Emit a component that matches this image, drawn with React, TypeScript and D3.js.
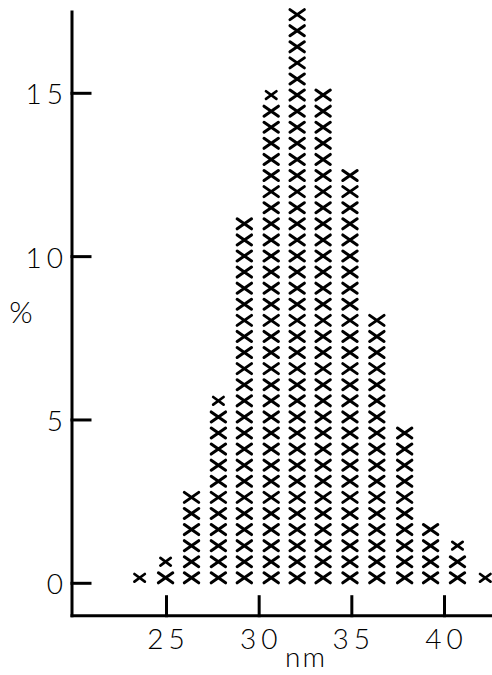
import React from "react";
import * as d3 from "d3";

// Size classes (nm) – centre of each column of crosses
const binCenters = [23.55, 24.95, 26.35, 27.8, 29.2, 30.65, 32.05, 33.45, 34.9, 36.35, 37.85, 39.25, 40.7, 42.2];
// Number of particles counted in each size class (one cross each)
const counts = [1, 2, 6, 12, 23, 31, 36, 31, 26, 17, 10, 4, 3, 1];
// Columns whose topmost cross is printed smaller
const smallTop = [true, true, false, true, false, true, false, false, false, false, false, false, true, true];

const yTicks = [0, 5, 10, 15];
const xTicks = [25, 30, 35, 40];

const W = 492;
const H = 675;

const FONT = "Lato, 'Open Sans', 'DejaVu Sans', sans-serif";

export default function App() {
  const total = d3.sum(counts);
  const pctPerCross = 100 / total;

  const x = d3.scaleLinear().domain([25, 40]).range([166.5, 444.5]);
  const y = d3.scaleLinear().domain([0, 15]).range([583.3, 93.3]);

  const axisX = 72;
  const axisY = 615.7;
  const axisTop = 12;

  const crossPath = (hx: number, hy: number) =>
    `M${-hx},${-hy}L${hx},${hy}M${-hx},${hy}L${hx},${-hy}`;

  const marks: { cx: number; cy: number; small: boolean; key: string }[] = [];
  binCenters.forEach((c, i) => {
    for (let k = 1; k <= counts[i]; k++) {
      marks.push({
        cx: x(c),
        cy: y(pctPerCross * (k - 0.66)),
        small: smallTop[i] && k === counts[i],
        key: `${i}-${k}`,
      });
    }
  });

  return (
    <svg
      width={W}
      height={H}
      style={{ position: "absolute", left: 0, top: 0, background: "#fff" }}
      fontFamily={FONT}
    >
      {/* axes */}
      <g stroke="#000" strokeWidth={3} fill="none" strokeLinecap="square">
        <line x1={axisX} y1={axisTop} x2={axisX} y2={axisY} />
        <line x1={axisX} y1={axisY} x2={W} y2={axisY} />
        {yTicks.map((t) => (
          <line key={`yt${t}`} x1={axisX} x2={axisX + 18} y1={y(t)} y2={y(t)} />
        ))}
        {xTicks.map((t) => (
          <line key={`xt${t}`} x1={x(t)} x2={x(t)} y1={axisY} y2={axisY - 19} />
        ))}
      </g>

      {/* tick labels */}
      <g fill="#000" fontSize={28} fontWeight={300} letterSpacing={5}>
        {yTicks.map((t) => (
          <text key={`yl${t}`} x={axisX - 4} y={y(t)} textAnchor="end" dominantBaseline="central">
            {t}
          </text>
        ))}
        {xTicks.map((t) => (
          <text key={`xl${t}`} x={x(t) + 2} y={axisY + 22} textAnchor="middle" dominantBaseline="central">
            {t}
          </text>
        ))}
      </g>

      {/* axis titles */}
      <text x={21} y={311} fontSize={30} fontWeight={300} textAnchor="middle" dominantBaseline="central" fill="#000">
        %
      </text>
      <text x={306} y={656} fontSize={28} fontWeight={300} letterSpacing={2} textAnchor="middle" dominantBaseline="central" fill="#000">
        nm
      </text>

      {/* one cross per particle */}
      <g stroke="#000" fill="none" strokeLinecap="round">
        {marks.map((m) => (
          <path
            key={m.key}
            transform={`translate(${m.cx},${m.cy})`}
            d={m.small ? crossPath(5.2, 3.8) : crossPath(7.2, 5)}
            strokeWidth={m.small ? 2.7 : 3}
          />
        ))}
      </g>
    </svg>
  );
}
